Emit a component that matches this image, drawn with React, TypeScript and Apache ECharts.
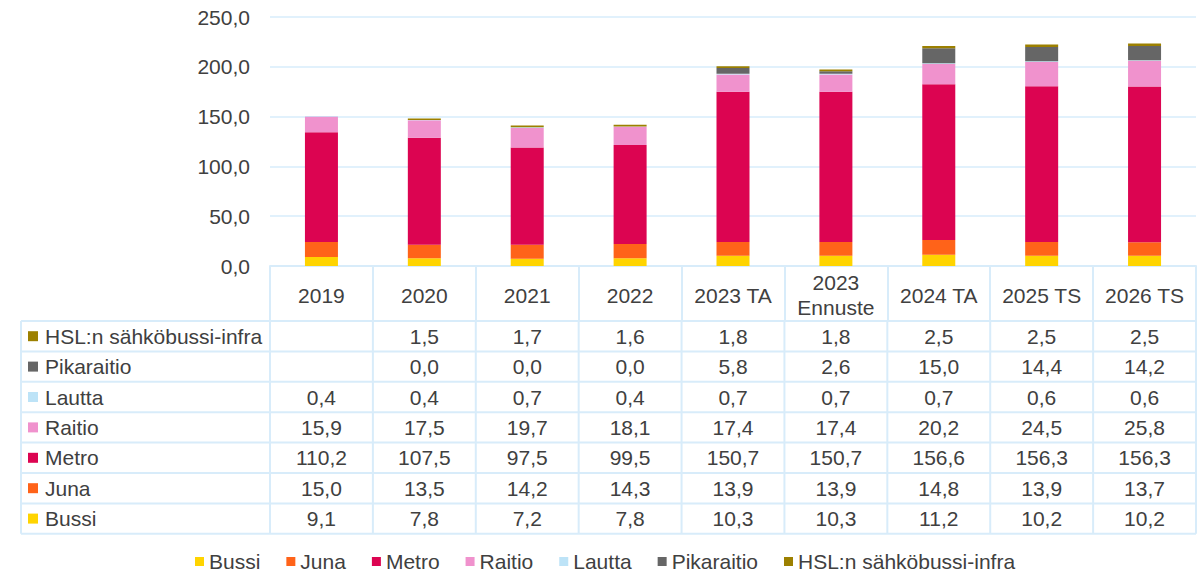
import React, { useEffect, useRef } from "react";
import * as echarts from "echarts";

const categories = ["2019", "2020", "2021", "2022", "2023 TA", "2023\nEnnuste", "2024 TA", "2025 TS", "2026 TS"];
const seriesNames = ["Bussi", "Juna", "Metro", "Raitio", "Lautta", "Pikaraitio", "HSL:n sähköbussi-infra"];
const colors = ["#FFD400", "#FF6319", "#DC0451", "#F092CD", "#BDE3F7", "#666666", "#9C8000"];
const bussi = [9.1, 7.8, 7.2, 7.8, 10.3, 10.3, 11.2, 10.2, 10.2];
const juna = [15.0, 13.5, 14.2, 14.3, 13.9, 13.9, 14.8, 13.9, 13.7];
const metro = [110.2, 107.5, 97.5, 99.5, 150.7, 150.7, 156.6, 156.3, 156.3];
const raitio = [15.9, 17.5, 19.7, 18.1, 17.4, 17.4, 20.2, 24.5, 25.8];
const lautta = [0.4, 0.4, 0.7, 0.4, 0.7, 0.7, 0.7, 0.6, 0.6];
const pikaraitio = [null, 0.0, 0.0, 0.0, 5.8, 2.6, 15.0, 14.4, 14.2];
const hsl = [null, 1.5, 1.7, 1.6, 1.8, 1.8, 2.5, 2.5, 2.5];
const yTicks = { min: 0, max: 250, interval: 50 };

const FONT = "'Liberation Sans', Arial, sans-serif";
const TEXT = "#404040";
const BORDER = "#D8ECFA";
const FS = 21;

const fmt = (v: number | null) => (v === null || v === undefined ? "" : v.toFixed(1).replace(".", ","));

export default function App() {
  const ref = useRef<HTMLDivElement>(null);
  useEffect(() => {
    if (!ref.current) return;
    const chart = echarts.init(ref.current, undefined, { renderer: "svg" });
    const data = [bussi, juna, metro, raitio, lautta, pikaraitio, hsl];
    const gridLeft = 270;
    const gridRight = 5;
    const gridTop = 17;
    const gridBottom = 307;
    const headerH = 55;
    const rowH = 30.4;
    chart.setOption({
      animation: false,
      textStyle: { fontFamily: FONT },
      color: colors,
      grid: { left: gridLeft, right: gridRight, top: gridTop, bottom: gridBottom, containLabel: false },
      legend: {
        top: 546,
        left: 190,
        icon: "rect",
        itemWidth: 9,
        itemHeight: 9,
        itemGap: 26,
        textStyle: { fontSize: FS, color: TEXT, fontFamily: FONT },
        data: seriesNames,
      },
      xAxis: {
        type: "category",
        data: categories,
        axisLine: { show: true, lineStyle: { color: BORDER, width: 2 } },
        axisTick: { show: true, length: headerH, lineStyle: { color: BORDER, width: 2 } },
        axisLabel: {
          interval: 0,
          margin: 29,
          verticalAlign: "middle",
          fontSize: FS,
          lineHeight: 25,
          color: TEXT,
          fontFamily: FONT,
        },
      },
      yAxis: {
        type: "value",
        min: yTicks.min,
        max: yTicks.max,
        interval: yTicks.interval,
        axisLine: { show: false },
        axisTick: { show: false },
        axisLabel: {
          margin: 20,
          fontSize: FS,
          color: TEXT,
          fontFamily: FONT,
          formatter: (v: number) => v.toFixed(1).replace(".", ","),
        },
        splitLine: { lineStyle: { color: "#E1F1FC", width: 2 } },
      },
      series: seriesNames.map((name, i) => ({
        name,
        type: "bar",
        stack: "total",
        barWidth: 33,
        data: data[i],
        itemStyle: { color: colors[i] },
      })),
    });

    const w = chart.getWidth();
    const h = chart.getHeight();
    const x1 = w - gridRight;
    const axisY = h - gridBottom;
    const tableTop = axisY + headerH;
    const leftX = 21;
    const c0 = chart.convertToPixel({ xAxisIndex: 0 }, 0) as number;
    const c1 = chart.convertToPixel({ xAxisIndex: 0 }, 1) as number;
    const band = c1 - c0;
    const rows = [6, 5, 4, 3, 2, 1, 0];
    const els: any[] = [];
    for (let k = 0; k <= rows.length; k++) {
      const y = tableTop + k * rowH;
      els.push({ type: "line", shape: { x1: leftX, y1: y, x2: x1, y2: y }, style: { stroke: BORDER, lineWidth: 2 } });
    }
    els.push({ type: "line", shape: { x1: leftX, y1: tableTop, x2: leftX, y2: tableTop + rows.length * rowH }, style: { stroke: BORDER, lineWidth: 2 } });
    for (let i = 0; i <= categories.length; i++) {
      const x = c0 - band / 2 + i * band;
      els.push({ type: "line", shape: { x1: x, y1: tableTop, x2: x, y2: tableTop + rows.length * rowH }, style: { stroke: BORDER, lineWidth: 2 } });
    }
    rows.forEach((si, k) => {
      const cy = tableTop + k * rowH + rowH / 2;
      els.push({ type: "rect", shape: { x: 28, y: cy - 5, width: 10, height: 10 }, style: { fill: colors[si] } });
      els.push({
        type: "text",
        x: 45,
        y: cy,
        style: { text: seriesNames[si], fontSize: FS, fill: TEXT, fontFamily: FONT, align: "left", verticalAlign: "middle" },
      });
      data[si].forEach((v, ci) => {
        const cx = chart.convertToPixel({ xAxisIndex: 0 }, ci) as number;
        els.push({
          type: "text",
          x: cx,
          y: cy,
          style: { text: fmt(v as number | null), fontSize: FS, fill: TEXT, fontFamily: FONT, align: "center", verticalAlign: "middle" },
        });
      });
    });
    chart.setOption({ graphic: els });
    return () => chart.dispose();
  }, []);
  return <div ref={ref} style={{ position: "absolute", left: 0, top: 0, width: 1201, height: 573 }} />;
}
